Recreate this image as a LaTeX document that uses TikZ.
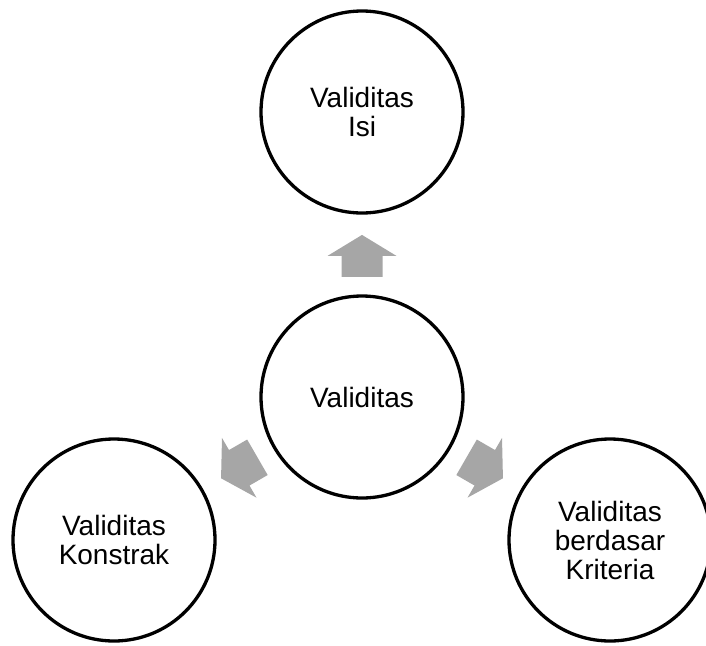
\documentclass[tikz,border=0pt]{standalone}
\usepackage{fontspec}
\setmainfont{Liberation Sans}
\usetikzlibrary{calc}
\definecolor{arrowgray}{HTML}{A6A6A6}
\tikzset{
  bubble/.style={circle, draw=black, line width=3.3pt, minimum size=202pt,
    inner sep=0pt, align=center, font=\fontsize{28}{29}\selectfont},
  blockarrow/.style={fill=arrowgray, draw=none},
}
\begin{document}
\begin{tikzpicture}[x=1pt,y=-1pt]
  \useasboundingbox (0,0) rectangle (706,645);
  % circles
  \node[bubble] (center) at (362,397) {Validitas};
  \node[bubble] (isi) at (362,112) {Validitas\\Isi};
  \node[bubble] (konstrak) at (114,540) {Validitas\\Konstrak};
  \node[bubble] (kriteria) at (610,540) {Validitas\\berdasar\\Kriteria};
  % block arrows pointing outward from the centre circle
  \foreach \target/\ang in {isi/0, konstrak/120, kriteria/-120}{
    \begin{scope}[shift={($(center)!0.495!(\target)$)}, rotate=\ang]
      \fill[blockarrow] (0,-21) -- (34.5,0) -- (20.5,0) -- (20.5,21)
        -- (-20.5,21) -- (-20.5,0) -- (-34.5,0) -- cycle;
    \end{scope}
  }
\end{tikzpicture}
\end{document}
